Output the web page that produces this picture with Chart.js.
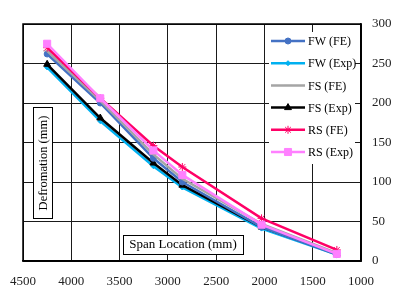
<!DOCTYPE html>
<html>
<head>
<meta charset="utf-8">
<script src="https://cdn.jsdelivr.net/npm/chart.js@4"></script>
<style>
  html, body { margin: 0; padding: 0; background: #fff; }
  #wrap { width: 395px; height: 292px; }
</style>
</head>
<body>
<div id="wrap"><canvas id="chart"></canvas></div>
<script>
// span locations (mm)
var spanLoc = [4250, 3700, 3150, 2850, 2030, 1250];
// deformation (mm)
var fwFE  = [262, 200, 130, 100, 43, 8];
var fwExp = [245, 177, 120, 93, 41, 8];
var fsFE  = [266, 203, 135, 104, 47, 10];
var fsExp = [249, 181, 124, 96, 43, 9];
var rsFE  = [270, 206, 146, 119, 54, 14];
var rsExp = [275, 206, 140, 109, 46, 9];
var xTicks = [4500, 4000, 3500, 3000, 2500, 2000, 1500, 1000];
var yTicks = [0, 50, 100, 150, 200, 250, 300];

function pts(ys) {
    return ys.map(function (y, i) { return { x: spanLoc[i], y: y }; });
}

var serif = "'Liberation Serif', 'Times New Roman', serif";

var series = [
    { label: 'FW (FE)',  data: fwFE,  color: '#4472C4', style: 'circle',  r: 3,   order: 3 },
    { label: 'FW (Exp)', data: fwExp, color: '#00B0F0', style: 'rectRot', r: 2.5, order: 5 },
    { label: 'FS (FE)',  data: fsFE,  color: '#A5A5A5', style: 'line',    r: 4,   order: 2 },
    { label: 'FS (Exp)', data: fsExp, color: '#000000', style: 'triangle',r: 4,   order: 4 },
    { label: 'RS (FE)',  data: rsFE,  color: '#FF0066', style: 'star',    r: 4,   order: 1 },
    { label: 'RS (Exp)', data: rsExp, color: '#FF80FF', style: 'rect',    r: 5,   order: 0 }
];

// boxed axis titles and legend drawn inside the plot area
var overlay = {
    id: 'overlay',
    afterDatasetsDraw: function (chart) {
        var c = chart.ctx;
        c.save();
        c.lineWidth = 1;
        c.strokeStyle = '#000';
        c.fillStyle = '#fff';
        // y title box
        c.fillRect(33, 107, 19, 111);
        c.strokeRect(33.5, 107.5, 19, 111);
        c.fillStyle = '#000';
        c.font = '12.5px ' + serif;
        c.textAlign = 'center';
        c.textBaseline = 'middle';
        c.save();
        c.translate(43, 163);
        c.rotate(-Math.PI / 2);
        c.fillText('Defromation (mm)', 0, 1);
        c.restore();
        // x title box
        c.fillStyle = '#fff';
        c.fillRect(123, 235, 120, 19);
        c.strokeRect(123.5, 235.5, 120, 19);
        c.fillStyle = '#000';
        c.font = '13px ' + serif;
        c.fillText('Span Location (mm)', 183, 245);
        // legend
        c.fillStyle = '#fff';
        c.fillRect(269, 32, 86, 132);
        c.textAlign = 'left';
        c.font = '12px ' + serif;
        series.forEach(function (s, i) {
            var y = 41 + i * 22.2;
            c.strokeStyle = s.color;
            c.lineWidth = 2.5;
            c.beginPath();
            c.moveTo(271, y);
            c.lineTo(305, y);
            c.stroke();
            c.lineWidth = 1;
            c.fillStyle = s.color;
            Chart.helpers.drawPoint(c, { pointStyle: s.style, radius: s.r, rotation: 0, borderWidth: 1 }, 288, y);
            c.fillStyle = '#000';
            c.fillText(s.label, 308, y + 1);
        });
        c.restore();
    }
};

var ctx = document.getElementById('chart').getContext('2d');
var myChart = new Chart(ctx, {
    type: 'line',
    data: {
        datasets: series.map(function (s) {
            return {
                label: s.label,
                data: pts(s.data),
                borderColor: s.color,
                backgroundColor: s.color,
                pointBorderColor: s.color,
                pointBackgroundColor: s.color,
                pointStyle: s.style,
                pointRadius: s.r,
                pointBorderWidth: 1,
                borderWidth: 2.5,
                tension: 0,
                order: s.order
            };
        })
    },
    options: {
        responsive: true,
        maintainAspectRatio: false,
        animation: false,
        layout: { padding: { top: 24, left: 23, right: 0, bottom: 0 } },
        plugins: {
            legend: { display: false },
            tooltip: { enabled: false }
        },
        scales: {
            x: {
                type: 'linear',
                reverse: true,
                min: 1000,
                max: 4500,
                afterBuildTicks: function (scale) {
                    scale.ticks = xTicks.map(function (v) { return { value: v }; });
                },
                afterFit: function (scale) {
                    scale.height = 31;
                    scale.paddingLeft = 0;
                    scale.paddingRight = 0;
                },
                grid: { color: '#1a1a1a', lineWidth: 1, drawTicks: false },
                border: { color: '#000', width: 1.5 },
                ticks: {
                    color: '#222',
                    padding: 13,
                    maxRotation: 0,
                    autoSkip: false,
                    font: { family: serif, size: 13 },
                    callback: function (v) { return String(v); }
                }
            },
            y: {
                position: 'right',
                min: 0,
                max: 300,
                afterBuildTicks: function (scale) {
                    scale.ticks = yTicks.map(function (v) { return { value: v }; });
                },
                afterFit: function (scale) { scale.width = 34; },
                grid: { color: '#1a1a1a', lineWidth: 1, drawTicks: false },
                border: { color: '#000', width: 1.5 },
                ticks: {
                    color: '#222',
                    padding: 11,
                    font: { family: serif, size: 13 },
                    callback: function (v) { return String(v); }
                }
            }
        }
    },
    plugins: [overlay, {
        id: 'frame',
        afterDraw: function (chart) {
            var a = chart.chartArea, c = chart.ctx;
            c.save();
            c.strokeStyle = '#000';
            c.lineWidth = 1.5;
            c.strokeRect(a.left, a.top, a.right - a.left, a.bottom - a.top);
            c.restore();
        }
    }]
});
</script>
</body>
</html>
